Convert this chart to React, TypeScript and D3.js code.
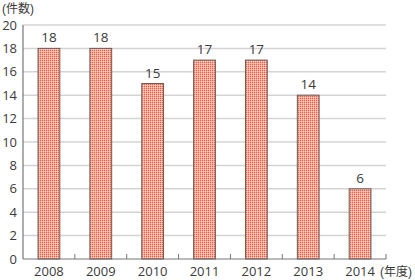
import React from "react";
import * as d3 from "d3";

const years = ["2008", "2009", "2010", "2011", "2012", "2013", "2014"];
const counts = [18, 18, 15, 17, 17, 14, 6];
const yTicks = [0, 2, 4, 6, 8, 10, 12, 14, 16, 18, 20];

const W = 415;
const H = 280;
const left = 23;
const right = 386;
const top = 25;
const bottom = 259;
const numFont = "'Open Sans', 'Noto Sans', sans-serif";
const cjkFont = "'Liberation Sans', 'Noto Sans CJK JP', sans-serif";
const textColor = "#3a3a3a";

export default function App() {
  const x = d3.scaleBand<string>().domain(years).range([left, right]).paddingInner(0.58).paddingOuter(0.29);
  const y = d3.scaleLinear().domain([0, 20]).range([bottom, top]);
  const step = x.step();
  const bw = x.bandwidth();
  return (
    <svg width={W} height={H} style={{ position: "absolute", left: 0, top: 0 }}>
      <defs>
        <pattern id="dots" width={2} height={2} patternUnits="userSpaceOnUse">
          <rect width={2} height={2} fill="#fbe3dc" />
          <rect width={1.4} height={1.4} fill="#ee5a3c" />
        </pattern>
      </defs>
      <rect width={W} height={H} fill="#fff" />
      {yTicks.filter((t) => t > 0).map((t) => (
        <line key={t} x1={left} x2={right} y1={y(t)} y2={y(t)} stroke="#d4d4d4" strokeWidth={1.5} />
      ))}
      {yTicks.map((t) => (
        <text key={t} x={17} y={y(t)} dy="0.36em" textAnchor="end" fontSize={13} fill={textColor} fontFamily={numFont}>
          {t}
        </text>
      ))}
      <text x={2} y={13} fontSize={12} fill={textColor} fontFamily={cjkFont}>(件数)</text>
      {years.map((yr, i) => (
        <g key={yr}>
          <rect
            x={x(yr)!}
            y={y(counts[i])}
            width={bw}
            height={bottom - y(counts[i])}
            fill="url(#dots)"
            stroke="#6e5a55"
            strokeWidth={1}
          />
          <text x={x(yr)! + bw / 2} y={y(counts[i]) - 6} textAnchor="middle" fontSize={13.5} fill={textColor} fontFamily={numFont}>
            {counts[i]}
          </text>
          <text x={x(yr)! + bw / 2} y={276} textAnchor="middle" fontSize={13} fill={textColor} fontFamily={numFont}>
            {yr}
          </text>
        </g>
      ))}
      <text x={x("2014")! + bw / 2 + 20} y={276} fontSize={12} fill={textColor} fontFamily={cjkFont}>(年度)</text>
      {years.map((yr, i) => (
        <line key={"t" + yr} x1={left + step * (i + 1)} x2={left + step * (i + 1)} y1={bottom} y2={bottom - 5} stroke="#777" strokeWidth={1} />
      ))}
      <line x1={left} x2={left} y1={top} y2={bottom} stroke="#777" strokeWidth={1.2} />
      <line x1={left} x2={right} y1={bottom} y2={bottom} stroke="#777" strokeWidth={1.2} />
    </svg>
  );
}
